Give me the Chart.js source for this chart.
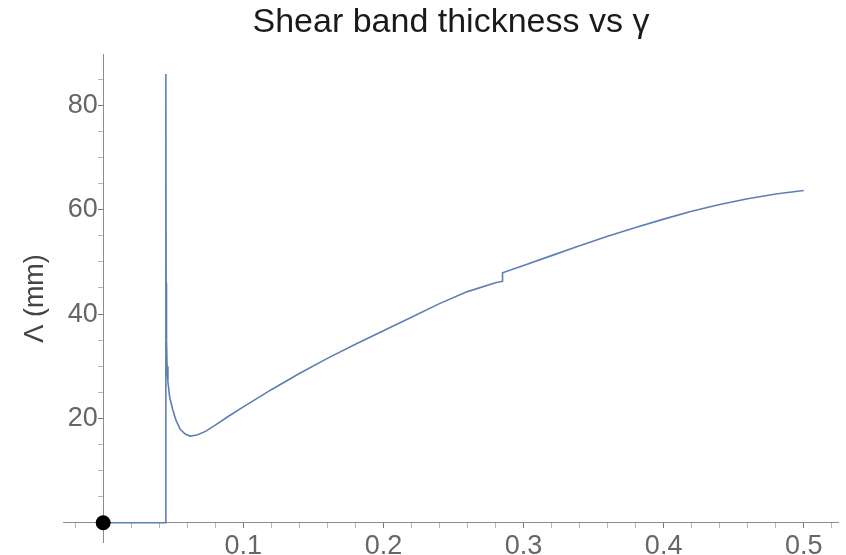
<!DOCTYPE html>
<html>
<head>
<meta charset="utf-8">
<script src="https://cdn.jsdelivr.net/npm/chart.js"></script>
<style>
  body { margin: 0; background: #fff; }
  #wrap { width: 846px; height: 555px; position: relative; }
</style>
</head>
<body>
<div id="wrap">
  <canvas id="myChart"></canvas>
</div>

<script>
// shear strain gamma and band thickness Lambda (mm)
var gammaValues = [0, 0.0447, 0.04472, 0.0449, 0.0452, 0.0456, 0.0462, 0.0475, 0.0495, 0.0520, 0.0550,
  0.0585, 0.0620, 0.0670, 0.0730, 0.0800, 0.0900, 0.1000, 0.1200, 0.1400, 0.1600, 0.1800, 0.2000,
  0.2200, 0.2400, 0.2600, 0.2800, 0.2850, 0.28502, 0.3000, 0.3200, 0.3400, 0.3600, 0.3800,
  0.4000, 0.4200, 0.4400, 0.4600, 0.4800, 0.5000];
var lambdaValues = [0, 0, 86, 46, 35, 30, 27, 24, 21.8, 19.6, 17.9,
  17.0, 16.6, 16.8, 17.5, 18.7, 20.5, 22.2, 25.5, 28.6, 31.5, 34.2, 36.8,
  39.4, 42.0, 44.3, 46.0, 46.3, 47.9, 49.3, 51.2, 53.1, 54.9, 56.6,
  58.2, 59.7, 61.0, 62.1, 63.0, 63.7];

// the marked point at the origin
var markerX = [0];
var markerY = [0];

var xTickLabels = [0.1, 0.2, 0.3, 0.4, 0.5];
var yTickLabels = [20, 40, 60, 80];

var curve = gammaValues.map(function(g, i) { return {x: g, y: lambdaValues[i]}; });
var marker = markerX.map(function(g, i) { return {x: g, y: markerY[i]}; });

function isLabelled(list, v) {
  return list.some(function(t) { return Math.abs(t - v) < 1e-6; });
}

var axisGrey = '#8c8c8c';

var config = {
  type: 'line',
  data: {
    datasets: [
      {
        label: 'origin',
        data: marker,
        showLine: false,
        pointRadius: 7.5,
        pointBackgroundColor: '#000',
        pointBorderColor: '#000',
        pointBorderWidth: 0
      },
      {
        label: 'Lambda',
        data: curve,
        borderColor: '#5E7FB2',
        borderWidth: 1.6,
        pointRadius: 0,
        tension: 0,
        fill: false
      }
    ]
  },
  options: {
    responsive: true,
    maintainAspectRatio: false,
    animation: false,
    layout: { padding: { left: 15, right: 3, top: 0, bottom: 13 } },
    plugins: {
      legend: { display: false },
      tooltip: { enabled: false },
      title: {
        display: true,
        fullSize: false,
        text: 'Shear band thickness vs γ',
        color: '#1a1a1a',
        font: { family: 'Liberation Sans', size: 34, weight: 'normal' },
        padding: { top: 2, bottom: 12 }
      }
    },
    scales: {
      x: {
        type: 'linear',
        min: -0.0284,
        max: 0.5248,
        position: { y: 0 },
        border: { display: true, color: axisGrey, width: 1 },
        grid: {
          drawOnChartArea: false,
          drawTicks: true,
          tickLength: 5,
          tickColor: function(ctx) {
            return ctx.tick && isLabelled(xTickLabels, ctx.tick.value) ? '#777' : '#b5b5b5';
          }
        },
        ticks: {
          stepSize: 0.02,
          includeBounds: false,
          autoSkip: false,
          maxRotation: 0,
          padding: 3,
          color: '#666',
          font: { family: 'Liberation Sans', size: 27 },
          callback: function(v) {
            return isLabelled(xTickLabels, v) ? String(Math.round(v * 10) / 10) : '';
          }
        },
        afterFit: function(s) { s.paddingLeft = 0; s.paddingRight = 0; }
      },
      y: {
        type: 'linear',
        min: -3.7,
        max: 89.7,
        position: { x: 0 },
        border: { display: true, color: axisGrey, width: 1 },
        grid: {
          drawOnChartArea: false,
          drawTicks: true,
          tickLength: 5,
          tickColor: function(ctx) {
            return ctx.tick && isLabelled(yTickLabels, ctx.tick.value) ? '#777' : '#b5b5b5';
          }
        },
        ticks: {
          stepSize: 5,
          includeBounds: false,
          autoSkip: false,
          padding: 3,
          color: '#666',
          font: { family: 'Liberation Sans', size: 27 },
          // labels sit right on the axis line here, so keep a thin gap after them
          callback: function(v) {
            return isLabelled(yTickLabels, v) ? String(v) + '\u2009' : '';
          }
        },
        afterFit: function(s) { s.paddingTop = 0; s.paddingBottom = 0; }
      },
      yTitle: {
        type: 'linear',
        position: 'left',
        display: true,
        border: { display: false },
        grid: { display: false, drawTicks: false },
        ticks: { display: false },
        title: {
          display: true,
          text: 'Λ (mm)',
          color: '#444',
          font: { family: 'Liberation Sans', size: 27 },
          padding: { top: 4, bottom: 12 }
        }
      }
    }
  }
};

var myChart = new Chart(document.getElementById('myChart'), config);
</script>
</body>
</html>
